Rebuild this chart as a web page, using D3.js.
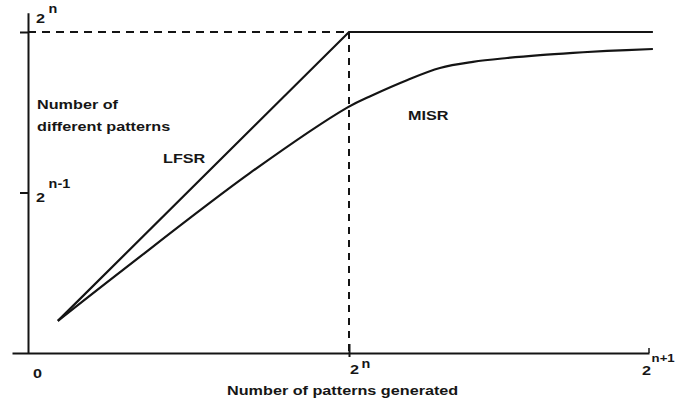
<!DOCTYPE html>
<html>
<head>
<meta charset="utf-8">
<script src="https://cdn.jsdelivr.net/npm/d3@7"></script>
<style>
  html, body { margin: 0; padding: 0; background: #fff; }
  svg { display: block; }
  text { font-family: "Liberation Sans", Arial, Helvetica, sans-serif; font-weight: bold; fill: #161616; }
</style>
</head>
<body>
<svg id="chart" width="675" height="407"></svg>
<script>
// Patterns generated, in units of 2^n
const lfsrX = [0.093, 1.0, 2.013];
const lfsrY = [0.100, 1.0, 1.0];

const misrX = [0.093, 0.296, 0.692, 0.997, 1.08, 1.193, 1.303, 1.413, 1.527, 1.637, 1.747, 1.86, 2.013];
const misrY = [0.100, 0.259, 0.561, 0.766, 0.804, 0.850, 0.888, 0.907, 0.919, 0.928, 0.935, 0.941, 0.947];

// Tick values and their labels (base, exponent)
const xTickValues = [0, 1, 2];
const xTickLabels = [["0", ""], ["2", "n"], ["2", "n+1"]];
const yTickValues = [0.5, 1];
const yTickLabels = [["2", "n-1"], ["2", "n"]];

const seriesNames = ["LFSR", "MISR"];
const xTitle = "Number of patterns generated";
const yTitle = ["Number of", "different patterns"];

const svg = d3.select("#chart");
const ink = "#141414";
const SX = 1.2; // horizontal stretch of the lettering

const x = d3.scaleLinear().domain([-0.05, 0, 1, 2]).range([12, 28, 349, 649]);
const y = d3.scaleLinear().domain([0, 1.06]).range([353, 353 - 1.06 * 321]);

// y axis
const yAxis = svg.append("g")
  .attr("transform", `translate(${x(0)},0)`)
  .call(d3.axisLeft(y).tickValues(yTickValues).tickSize(8).tickSizeOuter(0).tickFormat(""));
yAxis.select(".domain").attr("stroke", ink).attr("stroke-width", 2);
yAxis.selectAll(".tick line").attr("stroke", ink).attr("stroke-width", 2);

// x axis
const xAxis = svg.append("g")
  .attr("transform", `translate(0,${y(0)})`)
  .call(d3.axisBottom(x).tickValues([1]).tickSize(4).tickSizeOuter(0).tickFormat(""));
xAxis.select(".domain").attr("stroke", ink).attr("stroke-width", 2);
xAxis.selectAll(".tick line").attr("stroke", ink).attr("stroke-width", 2).attr("y1", -9);
// end tick at 2^(n+1), pointing up
svg.append("line")
  .attr("x1", x(2)).attr("x2", x(2))
  .attr("y1", y(0) - 5).attr("y2", y(0))
  .attr("stroke", ink).attr("stroke-width", 1.5);

// tick labels with superscripts
function powerLabel(px, py, parts, supDx, supDy, supSize) {
  const t = svg.append("text")
    .attr("transform", `translate(${px},${py}) scale(${SX},1)`)
    .attr("font-size", 13.5);
  t.append("tspan").text(parts[0]);
  if (parts[1]) {
    t.append("tspan").attr("dx", supDx).attr("dy", supDy).attr("font-size", supSize || 12).text(parts[1]);
  }
}
// x labels
powerLabel(x(xTickValues[0]) + 5, 378, xTickLabels[0], 0, 0);
powerLabel(x(xTickValues[1]) + 1, 374, xTickLabels[1], 2, -6);
powerLabel(x(xTickValues[2]) - 7, 375, xTickLabels[2], 0.5, -13, 11);
// y labels
powerLabel(x(0) + 8, y(yTickValues[1]) - 9, yTickLabels[1], 3, -10);
powerLabel(x(0) + 8, y(yTickValues[0]) + 9.5, yTickLabels[0], 3, -14);

// dashed guides to the saturation corner
svg.append("line")
  .attr("x1", x(0)).attr("x2", x(1))
  .attr("y1", y(1)).attr("y2", y(1))
  .attr("stroke", ink).attr("stroke-width", 2).attr("stroke-dasharray", "8,6");
svg.append("line")
  .attr("x1", x(1)).attr("x2", x(1))
  .attr("y1", y(1)).attr("y2", y(0))
  .attr("stroke", ink).attr("stroke-width", 2).attr("stroke-dasharray", "7,6");

// curves
const line = d3.line().x(d => x(d[0])).y(d => y(d[1]));
const curveLine = d3.line().x(d => x(d[0])).y(d => y(d[1])).curve(d3.curveCatmullRom.alpha(0.5));

svg.append("path")
  .datum(lfsrX.map((v, i) => [v, lfsrY[i]]))
  .attr("d", line)
  .attr("fill", "none").attr("stroke", ink).attr("stroke-width", 2.2);

svg.append("path")
  .datum(misrX.map((v, i) => [v, misrY[i]]))
  .attr("d", curveLine)
  .attr("fill", "none").attr("stroke", ink).attr("stroke-width", 2.2);

// text labels
function label(px, py, str, size) {
  svg.append("text")
    .attr("transform", `translate(${px},${py}) scale(${SX},1)`)
    .attr("font-size", size)
    .text(str);
}
label(37, 109, yTitle[0], 13.5);
label(37, 131, yTitle[1], 13.5);
label(163, 163, seriesNames[0], 13.5);
label(408, 120, seriesNames[1], 13.5);
label(227, 395, xTitle, 13.5);
</script>
</body>
</html>
